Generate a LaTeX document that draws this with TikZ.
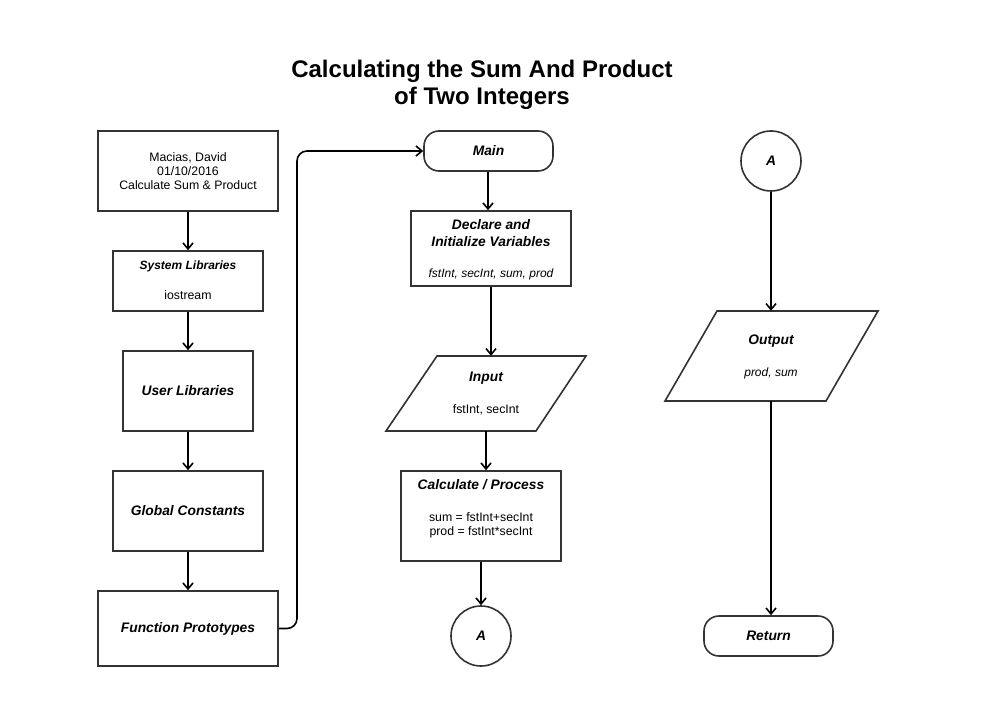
\documentclass[tikz,border=0pt]{standalone}
\usepackage{fontspec}
\setmainfont{Liberation Sans}
\usetikzlibrary{arrows.meta}
\begin{document}
\begin{tikzpicture}[x=1pt,y=-1pt,
  box/.style={draw=black!80,line width=1.6pt,rectangle,inner sep=0pt,fill=white},
  term/.style={draw=black!80,line width=1.6pt,rectangle,rounded corners=15pt,inner sep=0pt},
  conn/.style={draw=black!80,line width=1.6pt,circle,inner sep=0pt,minimum size=60pt},
  para/.style={draw=black!80,line width=1.6pt},
  anc/.style={rectangle,inner sep=0pt},
  flow/.style={line width=1.6pt,-{Straight Barb[length=6pt,width=10pt,line width=1.6pt]}},
  txt/.style={font=\fontsize{12.3}{14}\selectfont,align=center,inner sep=0pt},
  hd/.style={font=\fontsize{13.8}{17}\selectfont\bfseries\itshape,align=center,inner sep=0pt},
  sub/.style={font=\fontsize{12}{14}\selectfont\itshape,align=center,inner sep=0pt}]
\useasboundingbox (0,0) rectangle (988,722);
\fill[white] (0,0) rectangle (988,722);

% title
\node[font=\fontsize{24}{27}\selectfont\bfseries,align=center] (title) at (482,85) {Calculating the Sum And Product\\of Two Integers};

% left column
\node[box,minimum width=180pt,minimum height=80pt] (hdr) at (188,171) {};
\node[txt] (hdrt) at (188,171) {Macias, David\\01/10/2016\\Calculate Sum \& Product};

\node[box,minimum width=150pt,minimum height=60pt] (sys) at (188,281) {};
\node[hd,font=\fontsize{12}{14}\selectfont\bfseries\itshape] (syst) at (188,266) {System Libraries};
\node[txt] (sysb) at (188,295) {iostream};

\node[box,minimum width=130pt,minimum height=80pt] (usr) at (188,391) {};
\node[hd] (usrt) at (188,391) {User Libraries};

\node[box,minimum width=150pt,minimum height=80pt] (glb) at (188,511) {};
\node[hd] (glbt) at (188,511) {Global Constants};

\node[box,minimum width=180pt,minimum height=75pt] (fp) at (188,628.5) {};
\node[hd] (fpt) at (188,628.5) {Function Prototypes};

% middle column
\node[term,minimum width=129pt,minimum height=40pt] (main) at (488.5,151) {};
\node[hd] (maint) at (488.5,151) {Main};

\node[box,minimum width=160pt,minimum height=75pt] (decl) at (491,248.5) {};
\node[hd] (declt) at (491,233.5) {Declare and\\Initialize Variables};
\node[sub] (declb) at (491,274) {fstInt, secInt, sum, prod};

\draw[para] (437,356) -- (586,356) -- (536,431) -- (386,431) -- cycle;
\node[anc,minimum width=100pt,minimum height=75pt] (inp) at (486,393.5) {};
\node[hd] (inpt) at (486,378) {Input};
\node[txt] (inpb) at (486,410) {fstInt, secInt};

\node[box,minimum width=160pt,minimum height=90pt] (calc) at (481,516) {};
\node[hd] (calct) at (481,485) {Calculate / Process};
\node[txt] (calcb) at (481,525.5) {sum = fstInt+secInt\\prod = fstInt*secInt};

\node[conn] (a1) at (481,636) {};
\node[hd] (a1t) at (481,636) {A};

% right column
\node[conn] (a2) at (771,161) {};
\node[hd] (a2t) at (771,161) {A};

\draw[para] (717,311) -- (878,311) -- (826,401) -- (665,401) -- cycle;
\node[anc,minimum width=110pt,minimum height=90pt] (out) at (771.5,356) {};
\node[hd] (outt) at (771,341) {Output};
\node[sub] (outb) at (771,373) {prod, sum};

\node[term,minimum width=129pt,minimum height=40pt] (ret) at (768.5,636) {};
\node[hd] (rett) at (768.5,636) {Return};

% connectors
\draw[flow] (hdr.south) -- (sys.north);
\draw[flow] (sys.south) -- (usr.north);
\draw[flow] (usr.south) -- (glb.north);
\draw[flow] (glb.south) -- (fp.north);
\draw[flow,rounded corners=10pt] (fp.east) -- (297,628.5) -- (297,151) -- (main.west);
\draw[flow] ([xshift=-0.5pt]main.south) -- ([xshift=-0.5pt]main.south |- decl.north);
\draw[flow] (decl.south) -- (decl.south |- inp.north);
\draw[flow] (inp.south) -- (inp.south |- calc.north);
\draw[flow] (calc.south) -- (a1.north);
\draw[flow] (a2.south) -- (a2.south |- out.north);
\draw[flow] (out.south -| a2.south) -- (a2.south |- ret.north);
\end{tikzpicture}
\end{document}
